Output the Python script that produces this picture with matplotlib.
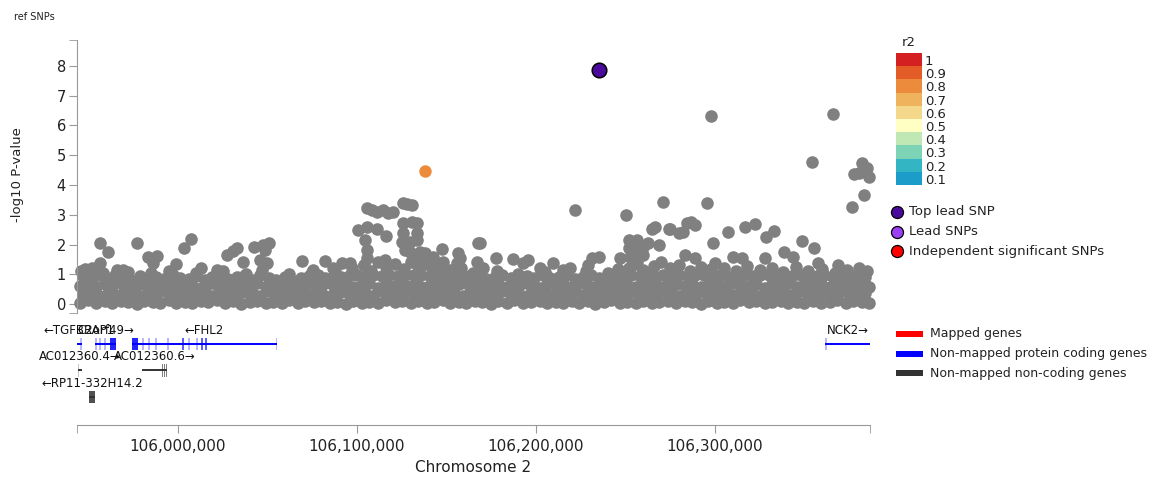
import matplotlib
matplotlib.use("Agg")
import matplotlib.pyplot as plt
from matplotlib.patches import Rectangle
from matplotlib.ticker import FuncFormatter
import numpy as np

# --- data (positions in kb on chromosome 2, values are -log10 P) ---
x_min_kb, x_max_kb = 105943.6, 106386.6
x_ticks = [106000000, 106100000, 106200000, 106300000]
y_ticks = [0, 1, 2, 3, 4, 5, 6, 7, 8]

base_low = [
    (105945, 0.05), (105950, 0.12), (105954, 0.02), (105959, 0.09), (105963, 0.04), (105968, 0.11), (105972, 0.06), (105977, 0.01),
    (105981, 0.10), (105986, 0.07), (105990, 0.03), (105995, 0.12), (105999, 0.05), (106004, 0.08), (106008, 0.02), (106013, 0.10),
    (106017, 0.06), (106022, 0.13), (106026, 0.04), (106031, 0.09), (106035, 0.01), (106040, 0.07), (106044, 0.11), (106049, 0.03),
    (106053, 0.08), (106058, 0.05), (106062, 0.12), (106067, 0.02), (106071, 0.09), (106076, 0.06), (106080, 0.10), (106085, 0.04),
    (106089, 0.07), (106094, 0.01), (106098, 0.11), (106103, 0.05), (106107, 0.08), (106112, 0.03), (106116, 0.12), (106121, 0.06),
    (106125, 0.09), (106130, 0.02), (106134, 0.10), (106139, 0.05), (106143, 0.07), (106148, 0.13), (106152, 0.03), (106157, 0.08),
    (106161, 0.04), (106166, 0.11), (106170, 0.06), (106175, 0.01), (106179, 0.09), (106184, 0.05), (106188, 0.12), (106193, 0.03),
    (106197, 0.07), (106202, 0.10), (106206, 0.02), (106211, 0.08), (106215, 0.05), (106220, 0.11), (106224, 0.04), (106229, 0.09),
    (106233, 0.01), (106238, 0.06), (106242, 0.12), (106247, 0.03), (106251, 0.08), (106256, 0.05), (106260, 0.10), (106265, 0.02),
    (106269, 0.07), (106274, 0.11), (106278, 0.04), (106283, 0.09), (106287, 0.06), (106292, 0.01), (106296, 0.10), (106301, 0.05),
    (106305, 0.08), (106310, 0.03), (106314, 0.12), (106319, 0.06), (106323, 0.09), (106328, 0.02), (106332, 0.07), (106337, 0.11),
    (106341, 0.04), (106346, 0.08), (106350, 0.05), (106355, 0.10), (106359, 0.03), (106364, 0.07), (106368, 0.12), (106373, 0.04),
    (106377, 0.09), (106382, 0.06), (106386, 0.02),
]
base_mid = [
    (105947, 0.33), (105952, 0.41), (105956, 0.28), (105961, 0.37), (105965, 0.30), (105970, 0.43), (105974, 0.35), (105979, 0.27),
    (105983, 0.39), (105988, 0.32), (105992, 0.44), (105997, 0.29), (106001, 0.36), (106006, 0.41), (106010, 0.31), (106015, 0.38),
    (106019, 0.26), (106024, 0.42), (106028, 0.34), (106033, 0.30), (106037, 0.40), (106042, 0.35), (106046, 0.28), (106051, 0.43),
    (106055, 0.33), (106060, 0.37), (106064, 0.29), (106069, 0.41), (106073, 0.32), (106078, 0.38), (106082, 0.27), (106087, 0.36),
    (106091, 0.42), (106096, 0.30), (106100, 0.39), (106105, 0.34), (106109, 0.28), (106114, 0.43), (106118, 0.31), (106123, 0.37),
    (106127, 0.40), (106132, 0.33), (106136, 0.29), (106141, 0.42), (106145, 0.35), (106150, 0.30), (106154, 0.38), (106159, 0.27),
    (106163, 0.41), (106168, 0.34), (106172, 0.36), (106177, 0.29), (106181, 0.43), (106186, 0.32), (106190, 0.39), (106195, 0.28),
    (106199, 0.35), (106204, 0.41), (106208, 0.30), (106213, 0.37), (106217, 0.33), (106222, 0.44), (106226, 0.29), (106231, 0.38),
    (106235, 0.31), (106240, 0.42), (106244, 0.35), (106249, 0.27), (106253, 0.40), (106258, 0.33), (106262, 0.37), (106267, 0.30),
    (106271, 0.43), (106276, 0.34), (106280, 0.28), (106285, 0.39), (106289, 0.32), (106294, 0.41), (106298, 0.36), (106303, 0.29),
    (106307, 0.38), (106312, 0.31), (106316, 0.42), (106321, 0.35), (106325, 0.27), (106330, 0.40), (106334, 0.33), (106339, 0.37),
    (106343, 0.30), (106348, 0.43), (106352, 0.34), (106357, 0.28), (106361, 0.39), (106366, 0.32), (106370, 0.41), (106375, 0.36),
    (106379, 0.30), (106384, 0.38),
]
base_high = [
    (105945, 0.62), (105950, 0.70), (105954, 0.57), (105959, 0.66), (105963, 0.60), (105968, 0.72), (105972, 0.58), (105977, 0.65),
    (105981, 0.69), (105986, 0.56), (105990, 0.63), (105995, 0.71), (105999, 0.59), (106004, 0.67), (106008, 0.61), (106013, 0.55),
    (106017, 0.68), (106022, 0.64), (106026, 0.70), (106031, 0.58), (106035, 0.66), (106040, 0.62), (106044, 0.72), (106049, 0.57),
    (106053, 0.65), (106058, 0.60), (106062, 0.69), (106067, 0.56), (106071, 0.63), (106076, 0.67), (106080, 0.59), (106085, 0.71),
    (106089, 0.61), (106094, 0.66), (106098, 0.58), (106103, 0.64), (106107, 0.70), (106112, 0.55), (106116, 0.68), (106121, 0.62),
    (106125, 0.72), (106130, 0.60), (106134, 0.65), (106139, 0.57), (106143, 0.69), (106148, 0.63), (106152, 0.59), (106157, 0.67),
    (106161, 0.71), (106166, 0.56), (106170, 0.64), (106175, 0.60), (106179, 0.68), (106184, 0.58), (106188, 0.66), (106193, 0.72),
    (106197, 0.61), (106202, 0.55), (106206, 0.69), (106211, 0.63), (106215, 0.67), (106220, 0.59), (106224, 0.71), (106229, 0.62),
    (106233, 0.57), (106238, 0.65), (106242, 0.70), (106247, 0.60), (106251, 0.64), (106256, 0.56), (106260, 0.68), (106265, 0.62),
    (106269, 0.58), (106274, 0.72), (106278, 0.66), (106283, 0.61), (106287, 0.69), (106292, 0.57), (106296, 0.63), (106301, 0.67),
    (106305, 0.59), (106310, 0.71), (106314, 0.64), (106319, 0.60), (106323, 0.68), (106328, 0.55), (106332, 0.66), (106337, 0.62),
    (106341, 0.70), (106346, 0.58), (106350, 0.65), (106355, 0.61), (106359, 0.69), (106364, 0.57), (106368, 0.63), (106373, 0.67),
    (106377, 0.60), (106382, 0.64), (106386, 0.58),
]
base_top = [
    (105947, 0.95), (105952, 0.88), (105956, 0.98), (105961, 0.84), (105965, 0.96), (105970, 0.90), (105974, 0.82), (105979, 0.94),
    (105983, 0.87), (105988, 0.92), (105992, 0.83), (105997, 0.97), (106001, 0.89), (106006, 0.85), (106010, 0.95), (106015, 0.82),
    (106019, 0.91), (106024, 0.96), (106028, 0.84), (106033, 0.90), (106037, 0.93), (106042, 0.81), (106046, 0.97), (106051, 0.87),
    (106055, 0.80), (106060, 0.90), (106064, 0.79), (106069, 0.86), (106073, 0.93), (106078, 0.98), (106082, 0.88), (106087, 0.96),
    (106091, 0.91), (106096, 0.97), (106100, 0.99), (106105, 0.93), (106109, 0.99), (106114, 0.95), (106118, 0.98), (106123, 0.94),
    (106127, 0.99), (106132, 0.96), (106136, 0.98), (106141, 0.93), (106145, 0.99), (106150, 0.95), (106154, 0.92), (106159, 0.97),
    (106163, 0.88), (106168, 0.95), (106172, 0.84), (106177, 0.92), (106181, 0.97), (106186, 0.87), (106190, 0.83), (106195, 0.94),
    (106199, 0.89), (106204, 0.98), (106208, 0.86), (106213, 0.91), (106217, 0.96), (106222, 0.84), (106226, 0.90), (106231, 0.97),
    (106235, 0.88), (106240, 0.93), (106244, 0.97), (106249, 0.90), (106253, 0.98), (106258, 0.95), (106262, 0.99), (106267, 0.92),
    (106271, 0.98), (106276, 0.96), (106280, 0.99), (106285, 0.93), (106289, 0.97), (106294, 0.99), (106298, 0.95), (106303, 0.98),
    (106307, 0.91), (106312, 0.96), (106316, 0.99), (106321, 0.93), (106325, 0.97), (106330, 0.99), (106334, 0.89), (106339, 0.96),
    (106343, 0.94), (106348, 0.98), (106352, 0.90), (106357, 0.95), (106361, 0.99), (106366, 0.92), (106370, 0.97), (106375, 0.87),
    (106379, 0.95), (106384, 0.91),
]
base_edge = [
    (105946, 1.10), (105952, 1.22), (105958, 1.05), (105966, 1.15), (105972, 1.08), (105985, 1.04), (105995, 1.12), (106010, 1.06),
    (106025, 1.10), (106038, 1.02), (106047, 1.15), (106062, 1.00), (106075, 1.08), (106088, 1.18), (106097, 1.20), (106104, 1.32),
    (106108, 1.12), (106112, 1.40), (106116, 1.25), (106121, 1.35), (106126, 1.18), (106130, 1.42), (106134, 1.28), (106138, 1.36),
    (106142, 1.22), (106147, 1.30), (106152, 1.15), (106158, 1.20), (106165, 1.05), (106178, 1.12), (106190, 1.02), (106205, 1.08),
    (106215, 1.15), (106228, 1.10), (106240, 1.04), (106246, 1.18), (106252, 1.22), (106256, 1.35), (106260, 1.15), (106266, 1.28),
    (106270, 1.40), (106275, 1.20), (106280, 1.32), (106286, 1.12), (106292, 1.25), (106298, 1.18), (106305, 1.22), (106312, 1.10),
    (106318, 1.28), (106325, 1.15), (106332, 1.20), (106338, 1.08), (106345, 1.25), (106352, 1.12), (106360, 1.18), (106367, 1.05),
    (106374, 1.14), (106380, 1.02), (106385, 1.10),
]
peaks = [
    (105956.4, 2.06), (105960.7, 1.74), (105956.4, 1.37), (105948.0, 1.17), (105976.9, 2.06), (105983.4, 1.59), (105988.4, 1.61),
    (105986.2, 1.37), (106007.1, 2.18), (106003.5, 1.87), (106012.7, 1.22), (105998.9, 1.33), (106027.2, 1.65), (106032.8, 1.87),
    (106030.9, 1.79), (106042.6, 1.91), (106047.7, 1.98), (106050.8, 2.06), (106048.6, 1.81), (106036.5, 1.42), (106045.8, 1.48),
    (106049.6, 1.37), (105969.4, 1.14), (106021.6, 1.14),
    (106105.4, 3.22), (106108.2, 3.16), (106111.0, 3.10), (106114.7, 3.16), (106117.5, 3.05), (106119.9, 3.10), (106125.5, 3.41),
    (106127.8, 3.36), (106130.6, 3.33), (106100.7, 2.49), (106105.4, 2.60), (106111.0, 2.51), (106116.2, 2.29), (106104.5, 2.15),
    (106105.4, 1.82), (106105.8, 1.54), (106103.9, 1.31), (106125.9, 2.71), (106130.6, 2.77), (106133.4, 2.71), (106125.9, 2.38),
    (106133.4, 2.38), (106125.0, 2.09), (106129.6, 2.09), (106133.4, 2.15), (106126.8, 1.82), (106129.6, 1.76), (106135.2, 1.76),
    (106138.0, 1.70), (106133.4, 1.59), (106147.3, 1.84), (106156.6, 1.70), (106157.5, 1.54), (106167.8, 2.04), (106069.1, 1.46),
    (106082.1, 1.46), (106091.5, 1.39), (106096.1, 1.37), (106115.6, 1.48), (106142.6, 1.59), (106148.2, 1.42), (106155.7, 1.37),
    (106075.4, 1.14), (106086.6, 1.20),
    (106221.8, 3.16), (106250.1, 2.99), (106271.1, 3.44), (106264.6, 2.51), (106266.5, 2.58), (106274.5, 2.51), (106280.1, 2.40),
    (106168.7, 2.04), (106252.1, 2.15), (106256.6, 2.15), (106252.1, 1.87), (106256.3, 1.82), (106259.9, 1.93), (106262.7, 2.04),
    (106268.9, 1.98), (106252.5, 1.59), (106259.9, 1.65), (106256.3, 1.42), (106177.7, 1.54), (106187.3, 1.50), (106195.7, 1.48),
    (106192.9, 1.37), (106166.9, 1.42), (106170.6, 1.20), (106231.1, 1.54), (106235.4, 1.59), (106229.2, 1.31), (106246.9, 1.54),
    (106209.7, 1.37), (106219.0, 1.20), (106202.2, 1.20),
    (106295.4, 3.38), (106376.4, 3.27), (106383.2, 3.66), (106274.9, 2.51), (106281.9, 2.43), (106284.2, 2.71), (106286.4, 2.75),
    (106288.8, 2.66), (106299.1, 2.06), (106307.4, 2.43), (106316.8, 2.60), (106322.3, 2.68), (106328.5, 2.26), (106333.0, 2.46),
    (106348.6, 2.13), (106355.3, 1.87), (106338.7, 1.76), (106343.7, 1.59), (106357.4, 1.39), (106368.9, 1.31), (106380.4, 1.20),
    (106283.2, 1.65), (106288.8, 1.54), (106310.2, 1.59), (106314.9, 1.54), (106327.9, 1.54), (106300.0, 1.37),
    (106297.8, 6.32), (106365.9, 6.39), (106354.2, 4.77), (106382.1, 4.74), (106384.9, 4.57), (106377.7, 4.37), (106380.4, 4.40),
    (106386.0, 4.27),
]
ld_snp_kb, ld_snp_p = 106138.0, 4.47
top_lead_kb, top_lead_p = 106235.2, 7.87

gene_names = ["TGFBRAP1", "C2orf49", "FHL2", "NCK2", "AC012360.4", "AC012360.6", "RP11-332H14.2"]
gene_start = [105880.0, 105953.6, 105974.3, 106361.5, 105943.9, 105979.9, 105950.3]
gene_end = [105946.2, 105965.4, 106055.3, 106510.0, 105946.5, 105993.9, 105953.6]
gene_strand = ["-", "+", "-", "+", "+", "+", "-"]
gene_row = [0, 0, 0, 0, 1, 1, 2]
gene_coding = [True, True, True, True, False, False, False]

# exons: (gene index, start kb, end kb, transcripts sharing it)
exons = [
    (0, 105945.4, 105946.2, 1),
    (1, 105953.8, 105954.6, 1), (1, 105956.0, 105956.8, 1), (1, 105958.8, 105959.6, 1), (1, 105962.0, 105965.4, 6),
    (2, 105974.3, 105977.7, 6), (2, 105980.0, 105980.8, 1), (2, 105983.4, 105984.2, 1), (2, 105987.3, 105988.1, 1),
    (2, 105994.0, 105994.8, 1), (2, 106002.4, 106003.2, 3), (2, 106005.7, 106006.5, 1), (2, 106010.2, 106011.0, 1),
    (2, 106013.0, 106013.8, 3), (2, 106015.2, 106016.0, 3), (2, 106054.5, 106055.3, 1),
    (3, 106361.5, 106362.3, 1),
    (4, 105943.9, 105944.5, 1),
    (5, 105991.3, 105991.9, 3), (5, 105992.4, 105993.0, 3), (5, 105993.3, 105993.9, 3),
    (6, 105950.3, 105953.6, 6),
]

r2_levels = ["1", "0.9", "0.8", "0.7", "0.6", "0.5", "0.4", "0.3", "0.2", "0.1"]
r2_colors = ["#d42020", "#e35b27", "#eb8b3b", "#efb35e", "#f3d88c", "#ffffc4", "#c0e8b4", "#7cd3b6", "#33b5c4", "#1c9cc9"]

# --- figure ---
W, H = 1160, 480
fig = plt.figure(figsize=(W / 100, H / 100), dpi=100)
plt.rcParams['font.family'] = ['DejaVu Sans']

def frac(left, top, right, bottom):
    return [left / W, 1 - bottom / H, (right - left) / W, (bottom - top) / H]

grey_axis = "#999999"
txt = "#222222"

ax = fig.add_axes(frac(77, 40, 870, 313))
for row in (base_low, base_mid, base_high, base_top, base_edge, peaks):
    kb = np.array([r[0] for r in row]) * 1000
    p = np.array([r[1] for r in row])
    ax.scatter(kb, p, s=82, color="#808080", linewidths=0, zorder=2, clip_on=False)
ax.scatter([ld_snp_kb * 1000], [ld_snp_p], s=80, color=r2_colors[2], linewidths=0, zorder=3, clip_on=False)
ax.scatter([top_lead_kb * 1000], [top_lead_p], s=110, color="#4b0a9c", edgecolors="black", linewidths=1.1,
           zorder=4, clip_on=False)

ax.set_xlim(x_min_kb * 1000, x_max_kb * 1000)
ax.set_ylim(-0.30, 8.87)
ax.set_yticks(y_ticks)
ax.set_yticks([-0.30, 8.87], minor=True)
ax.set_xticks([])
for s in ("top", "right", "bottom"):
    ax.spines[s].set_visible(False)
ax.spines["left"].set_color(grey_axis)
ax.tick_params(axis="y", which="both", length=6, color=grey_axis, labelsize=10.5, labelcolor=txt, pad=2)
ax.patch.set_alpha(0)

# gene track
gx = fig.add_axes(frac(77, 318, 870, 425))
gx.set_xlim(x_min_kb * 1000, x_max_kb * 1000)
gx.set_ylim(3.06, -0.98)
gx.set_yticks([])
for s in ("top", "right", "left"):
    gx.spines[s].set_visible(False)
gx.spines["bottom"].set_color(grey_axis)
gx.set_xticks(x_ticks)
gx.set_xticks([x_min_kb * 1000, x_max_kb * 1000], minor=True)
gx.xaxis.set_major_formatter(FuncFormatter(lambda v, _: f"{v:,.0f}"))
gx.tick_params(axis="x", which="both", length=6, color=grey_axis, labelsize=11, labelcolor=txt, pad=4)
gx.patch.set_alpha(0)

for i, name in enumerate(gene_names):
    col = "#0000ff" if gene_coding[i] else "#333333"
    r = gene_row[i]
    gx.plot([gene_start[i] * 1000, gene_end[i] * 1000], [r, r], color=col, lw=1.4, solid_capstyle="butt", zorder=2)
    lo = max(gene_start[i], x_min_kb)
    hi = min(gene_end[i], x_max_kb)
    label = "\u2190" + name if gene_strand[i] == "-" else name + "\u2192"
    gx.text((lo + hi) / 2 * 1000, r - 0.52, label, ha="center", va="center", fontsize=8.5, color="#111111")

for g, a, b, n in exons:
    col = "#0000ff" if gene_coding[g] else "#333333"
    alpha = 1 - 0.72 ** n
    gx.add_patch(Rectangle((a * 1000, gene_row[g] - 0.23), (b - a) * 1000, 0.46, facecolor=col,
                           edgecolor="none", alpha=alpha, zorder=3))

fig.text(473 / W, 1 - 468 / H, "Chromosome 2", ha="center", va="center", fontsize=11, color=txt)
fig.text(18 / W, 1 - 175 / H, "-log10 P-value", ha="center", va="center", rotation=90, fontsize=9.5, color=txt)
fig.text(14 / W, 1 - 17 / H, "ref SNPs", ha="left", va="center", fontsize=7, color=txt)

# legends, drawn in pixel space
lg = fig.add_axes([0, 0, 1, 1])
lg.set_xlim(0, W)
lg.set_ylim(H, 0)
lg.axis("off")
lg.text(909, 43, "r2", ha="center", va="center", fontsize=9.5, color=txt)
for k, (lab, c) in enumerate(zip(r2_levels, r2_colors)):
    y0 = 53 + k * 13.2
    lg.add_patch(Rectangle((896, y0), 26, 13.2, facecolor=c, edgecolor="none"))
    lg.text(925, y0 + 8.5, lab, ha="left", va="center", fontsize=9.5, color=txt)

snp_legend = [("Top lead SNP", "#4b0a9c"), ("Lead SNPs", "#9b3ff5"), ("Independent significant SNPs", "#ff0000")]
for k, (lab, c) in enumerate(snp_legend):
    y = 212 + k * 19.5
    lg.scatter([897], [y], s=75, color=c, edgecolors="black", linewidths=0.9)
    lg.text(909, y, lab, ha="left", va="center", fontsize=9.5, color=txt)

gene_legend = [("Mapped genes", "#ff0000"), ("Non-mapped protein coding genes", "#0000ff"),
               ("Non-mapped non-coding genes", "#333333")]
for k, (lab, c) in enumerate(gene_legend):
    y = 334 + k * 19.5
    lg.add_patch(Rectangle((896, y - 3), 27, 6, facecolor=c, edgecolor="none"))
    lg.text(930, y, lab, ha="left", va="center", fontsize=9, color=txt)

fig.savefig("out.png", dpi=100)
